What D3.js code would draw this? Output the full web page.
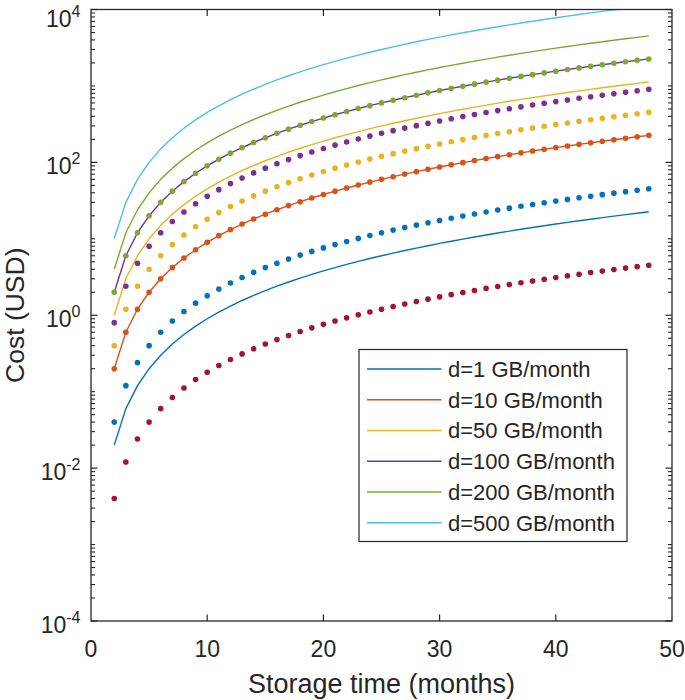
<!DOCTYPE html>
<html>
<head>
<meta charset="utf-8">
<script src="https://cdn.jsdelivr.net/npm/d3@7/dist/d3.min.js"></script>
<style>
  html, body { margin: 0; padding: 0; background: #fff; }
  svg { display: block; }
  text { font-family: "Liberation Sans", Arial, Helvetica, sans-serif; fill: #262626; }
</style>
</head>
<body>
<div id="chart"></div>
<script>
// ---------- DATA ----------
const months = [2,3,4,5,6,7,8,9,10,11,12,13,14,15,16,17,18,19,20,21,22,23,24,25,26,27,28,29,30,31,32,33,34,35,36,37,38,39,40,41,42,43,44,45,46,47,48];

const legendLabels = ["d=1 GB/month","d=10 GB/month","d=50 GB/month","d=100 GB/month","d=200 GB/month","d=500 GB/month"];

// solid-line series
const lineD1   = [0.02,0.06,0.12,0.2,0.3,0.42,0.56,0.72,0.9,1.1,1.32,1.56,1.82,2.1,2.4,2.72,3.06,3.42,3.8,4.2,4.62,5.06,5.52,6,6.5,7.02,7.56,8.12,8.7,9.3,9.92,10.56,11.22,11.9,12.6,13.32,14.06,14.82,15.6,16.4,17.22,18.06,18.92,19.8,20.7,21.62,22.56];
const lineD10  = [0.2,0.6,1.2,2,3,4.2,5.6,7.2,9,11,13.2,15.6,18.2,21,24,27.2,30.6,34.2,38,42,46.2,50.6,55.2,60,65,70.2,75.6,81.2,87,93,99.2,105.6,112.2,119,126,133.2,140.6,148.2,156,164,172.2,180.6,189.2,198,207,216.2,225.6];
const lineD50  = [1,3,6,10,15,21,28,36,45,55,66,78,91,105,120,136,153,171,190,210,231,253,276,300,325,351,378,406,435,465,496,528,561,595,630,666,703,741,780,820,861,903,946,990,1035,1081,1128];
const lineD100 = [2,6,12,20,30,42,56,72,90,110,132,156,182,210,240,272,306,342,380,420,462,506,552,600,650,702,756,812,870,930,992,1056,1122,1190,1260,1332,1406,1482,1560,1640,1722,1806,1892,1980,2070,2162,2256];
const lineD200 = [4,12,24,40,60,84,112,144,180,220,264,312,364,420,480,544,612,684,760,840,924,1012,1104,1200,1300,1404,1512,1624,1740,1860,1984,2112,2244,2380,2520,2664,2812,2964,3120,3280,3444,3612,3784,3960,4140,4324,4512];
const lineD500 = [10,30,60,100,150,210,280,360,450,550,660,780,910,1050,1200,1360,1530,1710,1900,2100,2310,2530,2760,3000,3250,3510,3780,4060,4350,4650,4960,5280,5610,5950,6300,6660,7030,7410,7800,8200,8610,9030,9460,9900,10350,10810,11280];

// dotted series
const dotD1   = [0.004,0.012,0.024,0.04,0.06,0.084,0.112,0.144,0.18,0.22,0.264,0.312,0.364,0.42,0.48,0.544,0.612,0.684,0.76,0.84,0.924,1.012,1.104,1.2,1.3,1.404,1.512,1.624,1.74,1.86,1.984,2.112,2.244,2.38,2.52,2.664,2.812,2.964,3.12,3.28,3.444,3.612,3.784,3.96,4.14,4.324,4.512];
const dotD10  = [0.04,0.12,0.24,0.4,0.6,0.84,1.12,1.44,1.8,2.2,2.64,3.12,3.64,4.2,4.8,5.44,6.12,6.84,7.6,8.4,9.24,10.12,11.04,12,13,14.04,15.12,16.24,17.4,18.6,19.84,21.12,22.44,23.8,25.2,26.64,28.12,29.64,31.2,32.8,34.44,36.12,37.84,39.6,41.4,43.24,45.12];
const dotD50  = [0.2,0.6,1.2,2,3,4.2,5.6,7.2,9,11,13.2,15.6,18.2,21,24,27.2,30.6,34.2,38,42,46.2,50.6,55.2,60,65,70.2,75.6,81.2,87,93,99.2,105.6,112.2,119,126,133.2,140.6,148.2,156,164,172.2,180.6,189.2,198,207,216.2,225.6];
const dotD100 = [0.4,1.2,2.4,4,6,8.4,11.2,14.4,18,22,26.4,31.2,36.4,42,48,54.4,61.2,68.4,76,84,92.4,101.2,110.4,120,130,140.4,151.2,162.4,174,186,198.4,211.2,224.4,238,252,266.4,281.2,296.4,312,328,344.4,361.2,378.4,396,414,432.4,451.2];
const dotD200 = [0.8,2.4,4.8,8,12,16.8,22.4,28.8,36,44,52.8,62.4,72.8,84,96,108.8,122.4,136.8,152,168,184.8,202.4,220.8,240,260,280.8,302.4,324.8,348,372,396.8,422.4,448.8,476,504,532.8,562.4,592.8,624,656,688.8,722.4,756.8,792,828,864.8,902.4];
const dotD500 = [2,6,12,20,30,42,56,72,90,110,132,156,182,210,240,272,306,342,380,420,462,506,552,600,650,702,756,812,870,930,992,1056,1122,1190,1260,1332,1406,1482,1560,1640,1722,1806,1892,1980,2070,2162,2256];

const xTicks = [0,10,20,30,40,50];
const xTickLabels = ["0","10","20","30","40","50"];
const yTicks = [1e-4,1e-2,1e0,1e2,1e4];
const yTickExponents = ["-4","-2","0","2","4"];

const xLabel = "Storage time (months)";
const yLabel = "Cost (USD)";

// ---------- STYLE ----------
const C = {blue:"#0072BD", orange:"#D95319", yellow:"#EDB120", purple:"#7E2F8E", green:"#77AC30", cyan:"#4DBEEE", red:"#A2142F"};
const lineSeries = [
  {values: lineD1, color: C.blue},
  {values: lineD10, color: C.orange},
  {values: lineD50, color: C.yellow},
  {values: lineD100, color: C.purple},
  {values: lineD200, color: C.green},
  {values: lineD500, color: C.cyan}
];
const dotSeries = [
  {values: dotD1, color: C.red},
  {values: dotD10, color: C.blue},
  {values: dotD50, color: C.orange},
  {values: dotD100, color: C.yellow},
  {values: dotD200, color: C.purple},
  {values: dotD500, color: C.green}
];

const W = 685, H = 700;
const plot = {left: 91, right: 672, top: 9.5, bottom: 621};
const axisColor = "#262626";

const svg = d3.select("#chart").append("svg").attr("width", W).attr("height", H);

const x = d3.scaleLinear().domain([0, 50]).range([plot.left, plot.right]);
const y = d3.scaleLog().domain([1e-4, 1e4]).range([plot.bottom, plot.top]);

// clip
svg.append("defs").append("clipPath").attr("id", "clip")
  .append("rect").attr("x", plot.left).attr("y", plot.top)
  .attr("width", plot.right - plot.left).attr("height", plot.bottom - plot.top);

const gData = svg.append("g").attr("clip-path", "url(#clip)");

const line = d3.line().x((d, i) => x(months[i])).y(d => y(d));

lineSeries.forEach(s => {
  gData.append("path").datum(s.values)
    .attr("d", line)
    .attr("fill", "none")
    .attr("stroke", s.color)
    .attr("stroke-width", 1.4)
    .attr("stroke-linejoin", "round");
});

dotSeries.forEach(s => {
  gData.append("g").selectAll("circle").data(s.values).join("circle")
    .attr("cx", (d, i) => x(months[i]))
    .attr("cy", d => y(d))
    .attr("r", 2.8)
    .attr("fill", s.color);
});

// ---------- AXES ----------
const gAx = svg.append("g");
// box
gAx.append("rect")
  .attr("x", plot.left).attr("y", plot.top)
  .attr("width", plot.right - plot.left).attr("height", plot.bottom - plot.top)
  .attr("fill", "none").attr("stroke", axisColor).attr("stroke-width", 1.3);

const majorLen = 6.5, minorLen = 4;
// x ticks bottom and top
xTicks.forEach((t, i) => {
  const xp = x(t);
  if (t > 0 && t < 50) {
    gAx.append("line").attr("x1", xp).attr("x2", xp).attr("y1", plot.bottom).attr("y2", plot.bottom - majorLen)
      .attr("stroke", axisColor).attr("stroke-width", 1.2);
    gAx.append("line").attr("x1", xp).attr("x2", xp).attr("y1", plot.top).attr("y2", plot.top + majorLen)
      .attr("stroke", axisColor).attr("stroke-width", 1.2);
  }
  gAx.append("text").attr("x", xp).attr("y", 657)
    .attr("text-anchor", "middle").attr("font-size", 23)
    .text(xTickLabels[i]);
});

// y minor ticks (log)
const minorTicks = y.ticks(100).filter(v => !yTicks.some(t => Math.abs(Math.log10(v) - Math.log10(t)) < 1e-9));
minorTicks.forEach(v => {
  const yp = y(v);
  if (yp < plot.top - 0.5 || yp > plot.bottom + 0.5) return;
  gAx.append("line").attr("x1", plot.left).attr("x2", plot.left + minorLen).attr("y1", yp).attr("y2", yp)
    .attr("stroke", axisColor).attr("stroke-width", 1.1);
  gAx.append("line").attr("x1", plot.right).attr("x2", plot.right - minorLen).attr("y1", yp).attr("y2", yp)
    .attr("stroke", axisColor).attr("stroke-width", 1.1);
});

yTicks.forEach((t, i) => {
  const yp = y(t);
  gAx.append("line").attr("x1", plot.left).attr("x2", plot.left + majorLen).attr("y1", yp).attr("y2", yp)
    .attr("stroke", axisColor).attr("stroke-width", 1.2);
  gAx.append("line").attr("x1", plot.right).attr("x2", plot.right - majorLen).attr("y1", yp).attr("y2", yp)
    .attr("stroke", axisColor).attr("stroke-width", 1.2);
  const base = Math.max(yp + 12, 26.5);
  const txt = gAx.append("text").attr("x", 80.5).attr("y", base).attr("text-anchor", "end");
  txt.append("tspan").attr("font-size", 23).text("10");
  txt.append("tspan").attr("font-size", 16).attr("dy", -10).text(yTickExponents[i]);
});

// axis labels
svg.append("text").attr("x", (plot.left + plot.right) / 2).attr("y", 693)
  .attr("text-anchor", "middle").attr("font-size", 27).text(xLabel);
svg.append("text")
  .attr("transform", `translate(24,${(plot.top + plot.bottom) / 2}) rotate(-90)`)
  .attr("text-anchor", "middle").attr("font-size", 26.5).text(yLabel);

// ---------- LEGEND ----------
const lg = {x: 359, y: 349.5, w: 268, h: 192};
const gL = svg.append("g");
gL.append("rect").attr("x", lg.x).attr("y", lg.y).attr("width", lg.w).attr("height", lg.h)
  .attr("fill", "#fff").attr("stroke", axisColor).attr("stroke-width", 1.2);
const rowY = d3.scaleLinear().domain([0, 5]).range([369, 522.7]);
lineSeries.forEach((s, i) => {
  const cy = rowY(i);
  gL.append("line").attr("x1", 367).attr("x2", 441.5).attr("y1", cy).attr("y2", cy)
    .attr("stroke", s.color).attr("stroke-width", 1.4);
  gL.append("text").attr("x", 448).attr("y", cy + 8).attr("font-size", 22).text(legendLabels[i]);
});
</script>
</body>
</html>
